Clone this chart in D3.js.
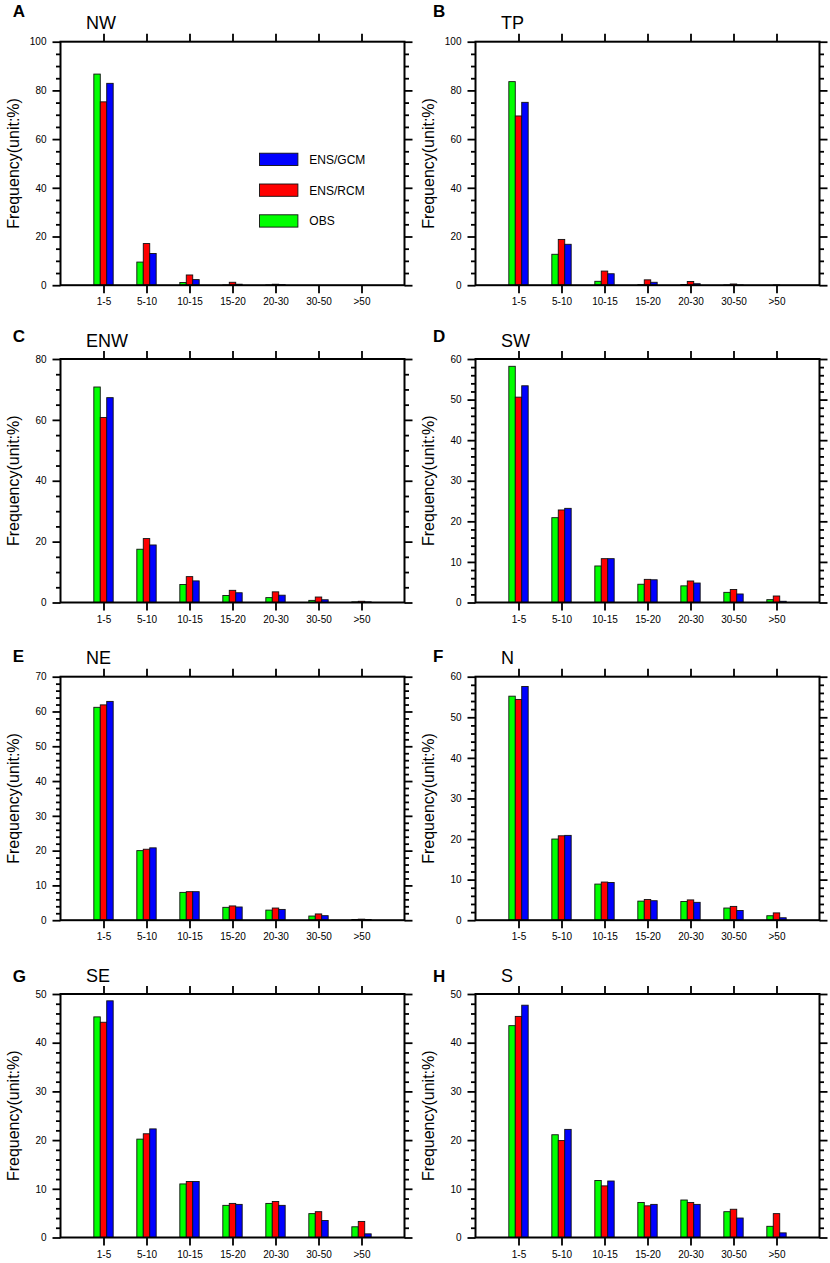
<!DOCTYPE html>
<html lang="en">
<head>
<meta charset="utf-8">
<title>Frequency by duration class</title>
<script src="https://d3js.org/d3.v7.min.js"></script>
<style>
  body { margin: 0; background: #ffffff; }
  svg { display: block; font-family: "Liberation Sans", Arial, Helvetica, sans-serif; }
</style>
</head>
<body>
<div id="chart"></div>
<script>
// categories (x axis)
var categories = ["1-5", "5-10", "10-15", "15-20", "20-30", "30-50", ">50"];

// panel info
var panelLetters = ["A", "B", "C", "D", "E", "F", "G", "H"];
var regions = ["NW", "TP", "ENW", "SW", "NE", "N", "SE", "S"];
var yMaxes = [100, 100, 80, 60, 70, 60, 50, 50];
var majorSteps = [20, 20, 20, 10, 10, 10, 10, 10];
var minorSteps = [5, 5, 5, 2, 2, 2, 2, 2];

// series
var seriesNames = ["OBS", "ENS/RCM", "ENS/GCM"];

// values (%), one row per panel
var obsValues = [
  [86.7, 9.5, 1.1, 0.1, 0.1, 0, 0],
  [83.6, 12.7, 1.6, 0.2, 0.3, 0.1, 0],
  [70.8, 17.5, 5.9, 2.3, 1.6, 0.7, 0.2],
  [58.2, 20.9, 9.0, 4.5, 4.1, 2.5, 0.7],
  [61.2, 20.0, 8.0, 3.7, 2.9, 1.2, 0.2],
  [55.2, 20.0, 8.9, 4.7, 4.6, 3.0, 1.1],
  [45.3, 20.2, 11.0, 6.6, 7.0, 4.9, 2.2],
  [43.5, 21.1, 11.7, 7.2, 7.7, 5.3, 2.3]
];
var rcmValues = [
  [75.3, 17.1, 4.2, 1.2, 0.4, 0, 0],
  [69.5, 18.8, 5.8, 2.2, 1.5, 0.5, 0.1],
  [60.8, 21.0, 8.5, 4.0, 3.5, 1.8, 0.4],
  [50.6, 22.8, 10.8, 5.7, 5.3, 3.2, 1.6],
  [61.9, 20.4, 8.2, 4.1, 3.5, 1.8, 0.3],
  [54.4, 20.8, 9.4, 5.1, 5.0, 3.4, 1.8],
  [44.2, 21.3, 11.5, 7.0, 7.4, 5.3, 3.3],
  [45.4, 19.9, 10.6, 6.5, 7.2, 5.8, 4.9]
];
var gcmValues = [
  [82.9, 13.0, 2.3, 0.4, 0.2, 0, 0],
  [75.1, 16.8, 4.7, 1.2, 0.6, 0.1, 0],
  [67.3, 18.9, 7.1, 3.2, 2.4, 0.9, 0.2],
  [53.4, 23.2, 10.8, 5.6, 4.8, 2.1, 0.3],
  [62.9, 20.8, 8.2, 3.8, 3.1, 1.3, 0.2],
  [57.6, 20.9, 9.3, 4.8, 4.4, 2.4, 0.6],
  [48.6, 22.3, 11.5, 6.8, 6.6, 3.5, 0.75],
  [47.7, 22.2, 11.6, 6.8, 6.8, 4.0, 0.95]
];

// colours
var seriesColors = {"OBS": "#00ff00", "ENS/RCM": "#ff0000", "ENS/GCM": "#0000ff"};

// layout
var width = 830, height = 1263;
var colX = [0, 415];
var rowTop = [41.7, 359, 676.7, 994];
var letterY = [17.3, 341.7, 661.7, 981.7];
var letterX = [12.7, 433];
var plotLeft = 60.5, plotW = 344, plotH = 243.5;

var svg = d3.select("#chart").append("svg")
  .attr("width", width)
  .attr("height", height);

svg.append("rect").attr("width", width).attr("height", height).attr("fill", "#fff");

regions.forEach(function(region, p) {
  var col = p % 2, row = Math.floor(p / 2);
  var x0 = colX[col] + plotLeft, y0 = rowTop[row];

  var g = svg.append("g").attr("transform", "translate(" + x0 + "," + y0 + ")");

  var x = d3.scalePoint().domain(categories).range([0, plotW]).padding(1);
  var barW = x.step() * 0.15;
  var xs = d3.scaleBand().domain(seriesNames).range([-1.5 * barW, 1.5 * barW]);
  var y = d3.scaleLinear().domain([0, yMaxes[p]]).range([plotH, 0]);

  var majors = d3.range(0, yMaxes[p] + 0.01, majorSteps[p]);
  var minors = d3.range(0, yMaxes[p] + 0.01, minorSteps[p]).filter(function(v) {
    return v % majorSteps[p] !== 0;
  });

  // bars
  var rows = categories.map(function(c, i) {
    return {cat: c, vals: [obsValues[p][i], rcmValues[p][i], gcmValues[p][i]]};
  });
  var groups = g.selectAll(".grp").data(rows).enter().append("g")
    .attr("transform", function(d) { return "translate(" + x(d.cat) + ",0)"; });
  groups.selectAll("rect")
    .data(function(d) {
      return seriesNames.map(function(s, j) { return {s: s, v: d.vals[j]}; })
        .filter(function(e) { return e.v > 0; });
    })
    .enter().append("rect")
    .attr("x", function(d) { return xs(d.s); })
    .attr("y", function(d) { return y(d.v); })
    .attr("width", xs.bandwidth())
    .attr("height", function(d) { return plotH - y(d.v); })
    .attr("fill", function(d) { return seriesColors[d.s]; })
    .attr("stroke", "#111")
    .attr("stroke-width", 0.9);

  // axes
  function styleAxis(sel) {
    sel.select(".domain").remove();
    sel.selectAll("line").attr("stroke", "#000").attr("stroke-width", 1.8);
    sel.selectAll("text").attr("fill", "#000").style("font-size", "10px");
  }
  g.append("g").call(d3.axisLeft(y).tickValues(majors).tickSize(8).tickPadding(6)
    .tickFormat(d3.format("d"))).call(styleAxis);
  g.append("g").call(d3.axisLeft(y).tickValues(minors).tickSize(4.5).tickFormat(""))
    .call(styleAxis);
  g.append("g").attr("transform", "translate(" + plotW + ",0)")
    .call(d3.axisRight(y).tickValues(majors).tickSize(8).tickFormat("")).call(styleAxis);
  g.append("g").attr("transform", "translate(" + plotW + ",0)")
    .call(d3.axisRight(y).tickValues(minors).tickSize(4.5).tickFormat("")).call(styleAxis);
  g.append("g").call(d3.axisTop(x).tickSize(8).tickFormat("")).call(styleAxis);
  g.append("g").attr("transform", "translate(0," + plotH + ")")
    .call(d3.axisBottom(x).tickSize(8).tickPadding(5)).call(styleAxis);

  // frame
  g.append("rect")
    .attr("width", plotW).attr("height", plotH)
    .attr("fill", "none").attr("stroke", "#000").attr("stroke-width", 2);

  // y label
  svg.append("text")
    .attr("transform", "translate(" + (colX[col] + 18.5) + "," + (y0 + plotH / 2) + ") rotate(-90)")
    .attr("text-anchor", "middle")
    .style("font-size", "16px")
    .text("Frequency(unit:%)");

  // region title
  svg.append("text")
    .attr("x", colX[col] + 86)
    .attr("y", y0 - 12.4)
    .style("font-size", "18px")
    .text(region);

  // panel letter
  svg.append("text")
    .attr("x", letterX[col])
    .attr("y", letterY[row])
    .style("font-size", "17px")
    .style("font-weight", "bold")
    .text(panelLetters[p]);

  // legend (first panel only)
  if (p === 0) {
    var legendOrder = ["ENS/GCM", "ENS/RCM", "OBS"];
    var leg = g.selectAll(".leg").data(legendOrder).enter().append("g")
      .attr("transform", function(d, i) { return "translate(199," + (111.5 + i * 30.8) + ")"; });
    leg.append("rect")
      .attr("width", 38.4).attr("height", 12.3)
      .attr("fill", function(d) { return seriesColors[d]; })
      .attr("stroke", "#111").attr("stroke-width", 0.9);
    leg.append("text")
      .attr("x", 49.8).attr("y", 10.5)
      .style("font-size", "12px")
      .text(function(d) { return d; });
  }
});
</script>
</body>
</html>
